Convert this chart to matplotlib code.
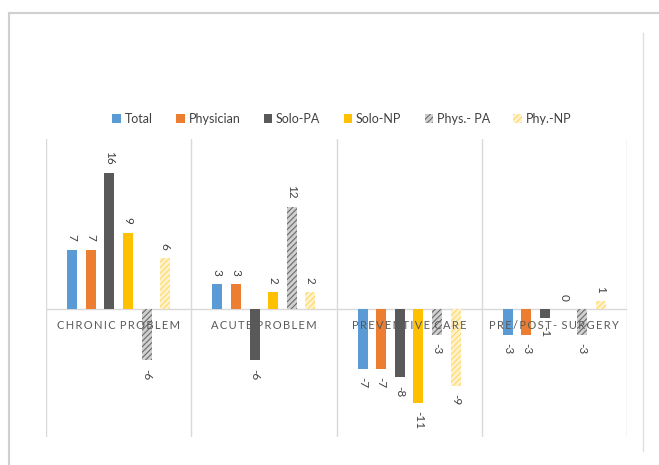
import numpy as np
import matplotlib
matplotlib.use("Agg")
import matplotlib.pyplot as plt
from matplotlib.lines import Line2D
from matplotlib.patches import Patch

plt.rcParams['font.family'] = ['Lato', 'DejaVu Sans']
plt.rcParams['hatch.linewidth'] = 0.8

categories = ['CHRONIC PROBLEM', 'ACUTE PROBLEM', 'PREVENTIVE CARE', 'PRE/POST- SURGERY']
series_names = ['Total', 'Physician', 'Solo-PA', 'Solo-NP', 'Phys.- PA', 'Phy.-NP']
total = [7, 3, -7, -3]
physician = [7, 3, -7, -3]
solo_pa = [16, -6, -8, -1]
solo_np = [9, 2, -11, 0]
phys_pa = [-6, 12, -3, -3]
phy_np = [6, 2, -9, 1]

series = [total, physician, solo_pa, solo_np, phys_pa, phy_np]
face = ['#5b9bd5', '#ed7d31', '#595959', '#ffc000', '#d0d0d0', '#fff2cc']
hatch_col = [None, None, None, None, '#6a6a6a', '#ffd966']
hatches = [None, None, None, None, '//////', '//////']

fig = plt.figure(figsize=(6.59, 4.65), dpi=100)
ax = fig.add_axes([46 / 659, 1 - 437 / 465, (627 - 46) / 659, (437 - 139) / 465])

x = np.arange(len(categories))
pitch = 0.128
width = 0.069
txt = '#404040'

for i, vals in enumerate(series):
    pos = x + (i - 2.5) * pitch
    if hatches[i]:
        bars = ax.bar(pos, vals, width, color=face[i], edgecolor=hatch_col[i],
                      hatch=hatches[i], linewidth=0, zorder=2)
    else:
        bars = ax.bar(pos, vals, width, color=face[i], linewidth=0, zorder=2)
    for b, v in zip(bars, vals):
        if v >= 0:
            ax.annotate(str(v), (b.get_x() + b.get_width() / 2, v), xytext=(0, 6),
                        textcoords='offset points', ha='center', va='bottom',
                        rotation=-90, fontsize=8.5, color=txt)
        else:
            ax.annotate(str(v), (b.get_x() + b.get_width() / 2, v), xytext=(0, -6),
                        textcoords='offset points', ha='center', va='top',
                        rotation=-90, fontsize=8.5, color=txt)

ax.set_xlim(-0.5, len(categories) - 0.5)
ax.set_ylim(-15, 20)
for xv in np.arange(-0.5, len(categories), 1.0):
    ax.axvline(xv, color='#d9d9d9', lw=1, zorder=1)
ax.axhline(0, color='#d9d9d9', lw=1, zorder=1)

# letter-spaced category names sitting on the zero line
for i, c in enumerate(categories):
    spaced = ' \u2009'.join('\u2009'.join(w) for w in c.split(' '))
    ax.annotate(spaced, (i, 0), xytext=(0, -11.5), textcoords='offset points',
                ha='center', va='center', fontsize=8, color='#595959', zorder=5)

ax.set_xticks([])
ax.set_yticks([])
for s in ax.spines.values():
    s.set_visible(False)

handles = [Patch(facecolor=face[i], edgecolor=hatch_col[i] if hatch_col[i] else face[i],
                 hatch=hatches[i], linewidth=0) for i in range(len(series))]
fig.legend(handles, series_names, loc='center', bbox_to_anchor=(342 / 659, 1 - 119 / 465),
           ncol=6, frameon=False, fontsize=9, handlelength=0.7, handleheight=0.7,
           handletextpad=0.3, columnspacing=1.85, labelcolor='#404040')

# outer chart frame
fig.add_artist(Line2D([9 / 659, 1], [1 - 13 / 465] * 2, transform=fig.transFigure,
                      color='#d0d0d0', lw=1.5))
fig.add_artist(Line2D([9 / 659] * 2, [0, 1 - 13 / 465], transform=fig.transFigure,
                      color='#d0d0d0', lw=1.5))
fig.add_artist(Line2D([643 / 659] * 2, [1 - 451 / 465, 1 - 33 / 465], transform=fig.transFigure,
                      color='#e0e0e0', lw=1))

fig.savefig('out.png', dpi=100, facecolor='white')
